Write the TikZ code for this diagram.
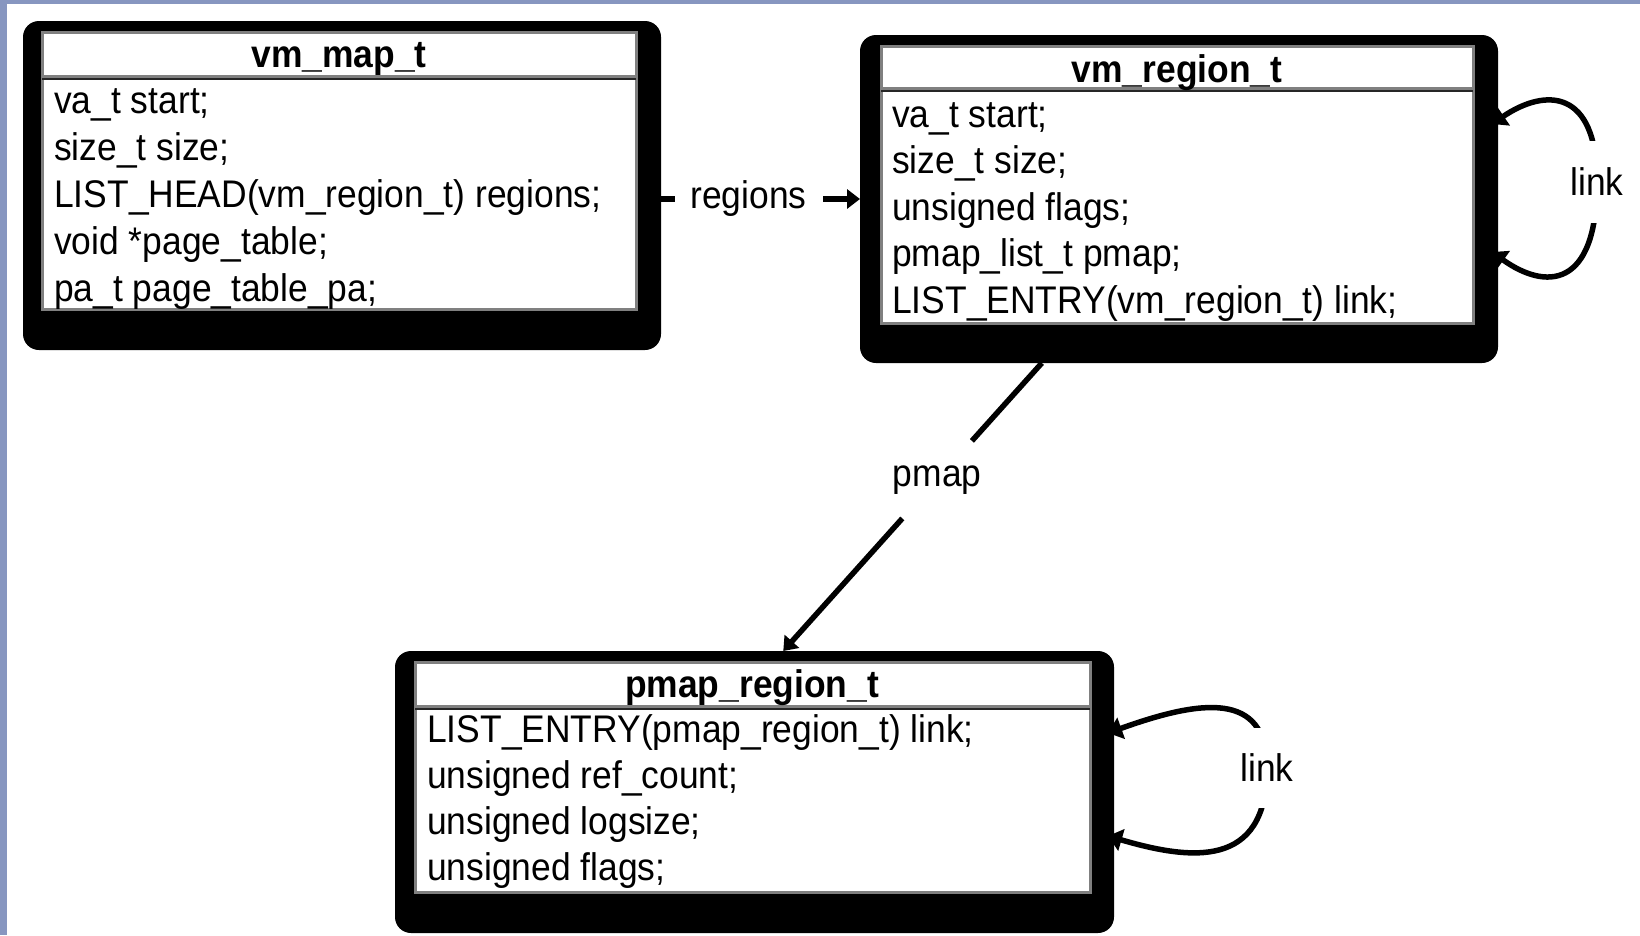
\documentclass[tikz,border=0pt]{standalone}
\usepackage{fontspec}
\setmainfont{Liberation Sans}[FakeStretch=0.92]
\usetikzlibrary{arrows.meta,calc}
\definecolor{edgeblue}{RGB}{135,150,192}
\definecolor{rulegray}{RGB}{128,128,128}
\tikzset{
  frame/.style={rectangle, rounded corners=16pt, fill=black, draw=none, anchor=north west, inner sep=0pt, outer sep=0pt},
  panel/.style={rectangle, fill=white, draw=rulegray, line width=3pt, anchor=north west, inner sep=0pt, outer sep=0pt},
  sepgray/.style={rulegray, line width=3pt},
  sepblack/.style={black!85, line width=2pt},
  field/.style={anchor=base west, inner sep=0pt, font=\fontsize{38.5pt}{46pt}\selectfont},
  head/.style={anchor=base, inner sep=0pt, font=\fontsize{38.5pt}{46pt}\selectfont\bfseries},
  conn/.style={line width=5.5pt, black},
  tip/.style={-{Triangle[length=13pt,width=19pt]}},
  bothtips/.style={{Triangle[length=14pt,width=22pt]}-{Triangle[length=14pt,width=22pt]}},
  lab/.style={fill=white, inner sep=0pt, font=\fontsize{38.5pt}{46pt}\selectfont}
}
\begin{document}
\begin{tikzpicture}[x=1pt,y=-1pt]
\useasboundingbox (0,0) rectangle (1640,935);
\fill[white] (0,0) rectangle (1640,935);
\fill[edgeblue] (0,0) rectangle (7,935);
\fill[edgeblue] (0,0) rectangle (1640,4);

% ---------- vm_map_t ----------
\node[frame, minimum width=638pt, minimum height=329pt] (map) at (23,21) {};
\node[panel, minimum width=594pt, minimum height=277pt] (mapin) at (42,32) {};
\draw[sepgray] (mapin.west |- 0,76) -- (mapin.east |- 0,76);
\draw[sepblack] (mapin.west |- 0,79) -- (mapin.east |- 0,79);
\node[head] (maph) at (339,67) {vm\_map\_t};
\node[field] (m1) at (54,113) {va\_t start;};
\node[field] (m2) at (54,160) {size\_t size;};
\node[field] (m3) at (54,207) {LIST\_HEAD(vm\_region\_t) regions;};
\node[field] (m4) at (54,254) {void *page\_table;};
\node[field] (m5) at (54,301) {pa\_t page\_table\_pa;};

% ---------- vm_region_t ----------
\node[frame, minimum width=638pt, minimum height=328pt] (region) at (860,35) {};
\node[panel, minimum width=592pt, minimum height=277pt] (regionin) at (881,46) {};
\draw[sepgray] (regionin.west |- 0,88) -- (regionin.east |- 0,88);
\draw[sepblack] (regionin.west |- 0,91) -- (regionin.east |- 0,91);
\node[head] (regionh) at (1177,82) {vm\_region\_t};
\node[field] (r1) at (892,127) {va\_t start;};
\node[field] (r2) at (892,173.5) {size\_t size;};
\node[field] (r3) at (892,220) {unsigned flags;};
\node[field] (r4) at (892,266.5) {pmap\_list\_t pmap;};
\node[field] (r5) at (892,313) {LIST\_ENTRY(vm\_region\_t) link;};

% ---------- pmap_region_t ----------
\node[frame, minimum width=719pt, minimum height=282pt] (pmapbox) at (395,651) {};
\node[panel, minimum width=675pt, minimum height=230pt] (pmapin) at (415,662) {};
\draw[sepgray] (pmapin.west |- 0,706) -- (pmapin.east |- 0,706);
\draw[sepblack] (pmapin.west |- 0,709) -- (pmapin.east |- 0,709);
\node[head] (pmaph) at (752,697) {pmap\_region\_t};
\node[field] (p1) at (427,742) {LIST\_ENTRY(pmap\_region\_t) link;};
\node[field] (p2) at (427,788) {unsigned ref\_count;};
\node[field] (p3) at (427,834) {unsigned logsize;};
\node[field] (p4) at (427,880) {unsigned flags;};

% ---------- connectors ----------
\draw[conn, tip] (map.east |- region.west) -- node[lab, pos=0.44, minimum width=148pt, minimum height=40pt] (reglab) {regions} (region.west);

\draw[conn, tip] ($(region.south west)!0.285!(region.south east)$)
  -- node[lab, pos=0.405, circle, minimum size=104pt] (pmaplab) {pmap}
  ($(pmapbox.north west)!0.54!(pmapbox.north east)$);

\coordinate (rl) at (1597,182);
\draw[conn, bothtips] ($(region.north east)+(-6,89)$)
  .. controls (1545,88) and (1597,88) .. (rl)
  .. controls (1597,290) and (1545,290) .. ($(region.north east)+(-6,217)$);
\node[lab, minimum height=82pt, minimum width=60pt] (rlink) at (rl) {link};

\coordinate (pl) at (1267,768);
\draw[conn, bothtips] ($(pmapbox.north east)+(-6,82)$)
  .. controls (1200,700) and (1267,690) .. (pl)
  .. controls (1267,870) and (1190,860) .. ($(pmapbox.north east)+(-6,185)$);
\node[lab, minimum height=80pt, minimum width=60pt] (plink) at (pl) {link};
\end{tikzpicture}
\end{document}
